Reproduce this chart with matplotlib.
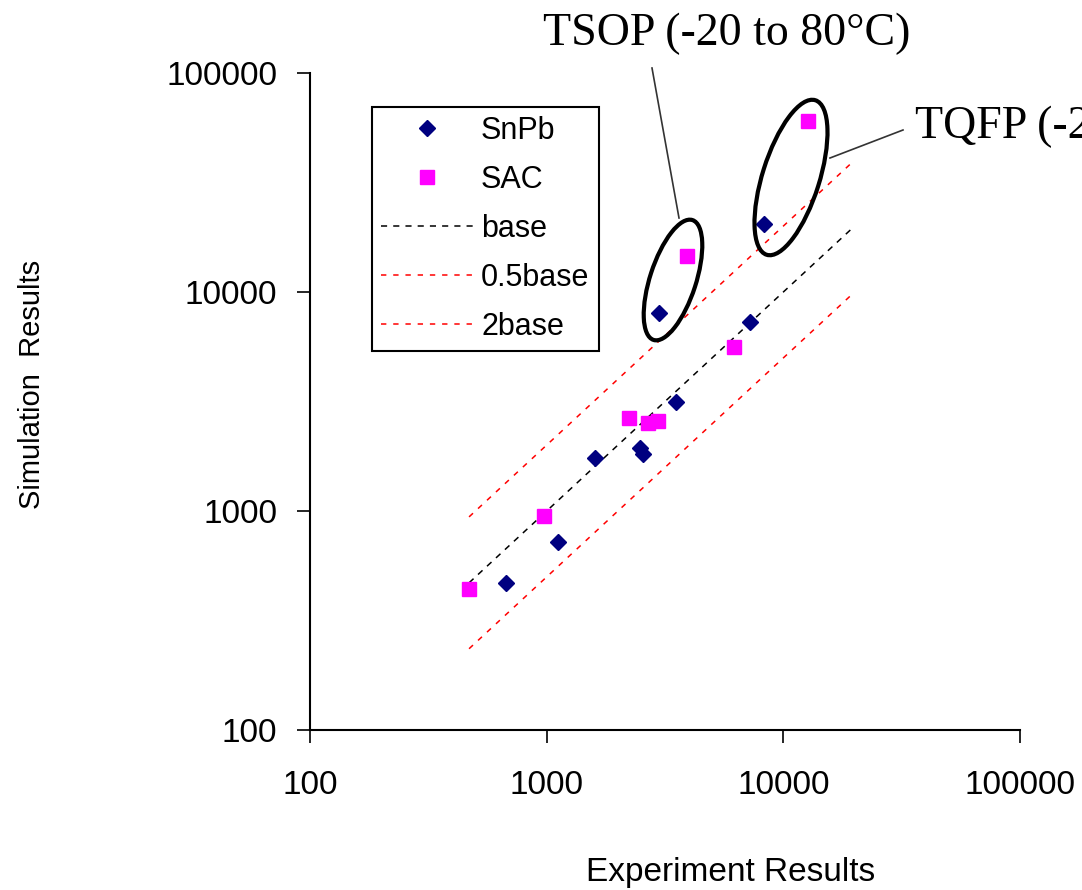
import matplotlib
matplotlib.use('Agg')
import matplotlib.pyplot as plt
from matplotlib.patches import Ellipse
from matplotlib.lines import Line2D

# measured points (experiment vs simulation cycles)
snpb_x = [673, 1117, 1600, 2478, 2553, 3516, 7227, 2979, 8280]
snpb_y = [469, 721, 1746, 1941, 1820, 3148, 7295, 8020, 20470]
sac_x = [470, 975, 2228, 2680, 2952, 6180, 3915, 12700]
sac_y = [440, 948, 2661, 2522, 2578, 5610, 14600, 60400]

# reference lines
line_x = [470, 20000]
base_y = [470, 20000]
half_y = [235, 10000]
double_y = [940, 40000]

ticks = [100, 1000, 10000, 100000]
tick_labels = ['100', '1000', '10000', '100000']

plt.rcParams['font.family'] = ['Liberation Sans', 'DejaVu Sans']

fig = plt.figure(figsize=(10.82, 8.9), dpi=100)
ax = fig.add_axes([310 / 1082, 160 / 890, 710 / 1082, 657 / 890])
ax.set_xscale('log')
ax.set_yscale('log')
ax.set_xlim(100, 100000)
ax.set_ylim(100, 100000)

ax.plot(line_x, base_y, color='black', lw=1.1, dashes=(4, 4), label='base', zorder=2)
ax.plot(line_x, half_y, color='red', lw=1.1, dashes=(3.5, 4.5), label='0.5base', zorder=2)
ax.plot(line_x, double_y, color='red', lw=1.1, dashes=(3.5, 4.5), label='2base', zorder=2)
ax.plot(snpb_x, snpb_y, ls='none', marker='D', ms=8.5, color='#000080', label='SnPb', zorder=3)
ax.plot(sac_x, sac_y, ls='none', marker='s', ms=10, color='#FF00FF', label='SAC', zorder=3)

ax.set_xticks(ticks)
ax.set_xticklabels(tick_labels)
ax.set_yticks(ticks)
ax.set_yticklabels(tick_labels)
ax.minorticks_off()
ax.tick_params(axis='x', direction='out', length=9.5, width=1.2, labelsize=24, pad=19)
ax.tick_params(axis='y', direction='out', length=9.5, width=1.2, labelsize=24, pad=14)
for s in ['top', 'right']:
    ax.spines[s].set_visible(False)
for s in ['left', 'bottom']:
    ax.spines[s].set_linewidth(1.5)

handles, labels = ax.get_legend_handles_labels()
order = [3, 4, 0, 1, 2]
leg = ax.legend([handles[i] for i in order], [labels[i] for i in order],
                loc='upper left', bbox_to_anchor=(62 / 710, 623 / 657), borderaxespad=0,
                fontsize=22, handlelength=3.0, handletextpad=0.27, borderpad=0.3,
                labelspacing=0.62, fancybox=False, framealpha=1, edgecolor='black')
leg.get_frame().set_linewidth(1.5)

fig.text(32 / 1082, 1 - 384 / 890, 'Simulation  Results', rotation=90,
         ha='center', va='center', fontsize=21)
fig.text(731 / 1082, 1 - 872 / 890, 'Experiment Results', ha='center', va='center', fontsize=24)

# callout ellipses and labels, in pixel-like inch coordinates
tr = fig.dpi_scale_trans
fig.add_artist(Ellipse((6.73, (890 - 280) / 100), 1.26, 0.46, angle=72,
                       fill=False, lw=3, ec='black', transform=tr))
fig.add_artist(Ellipse((7.91, (890 - 177.5) / 100), 1.62, 0.57, angle=72.5,
                       fill=False, lw=3, ec='black', transform=tr))
fig.add_artist(Line2D([6.52, 6.79], [(890 - 68) / 100, (890 - 218) / 100],
                      color='#333333', lw=1.2, transform=tr))
fig.add_artist(Line2D([8.30, 9.03], [(890 - 158) / 100, (890 - 130) / 100],
                      color='#333333', lw=1.2, transform=tr))

fig.text(543 / 1082, 1 - 45 / 890, 'TSOP (-20 to 80°C)', family='Liberation Serif',
         fontsize=33, ha='left', va='baseline')
# the reference crops this label at the right edge of the picture
fig.text(915 / 1082, 1 - 138 / 890, 'TQFP (-20 to 80°C)', family='Liberation Serif',
         fontsize=33, ha='left', va='baseline')

fig.savefig('out.png', dpi=100)
